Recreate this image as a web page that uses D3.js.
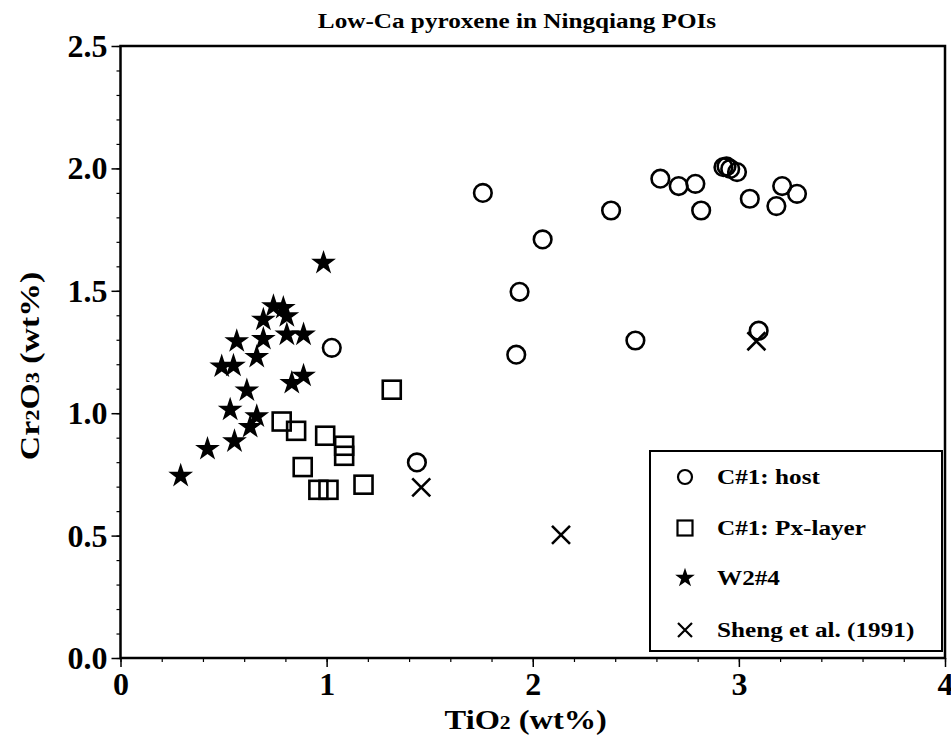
<!DOCTYPE html>
<html>
<head>
<meta charset="utf-8">
<script src="https://cdn.jsdelivr.net/npm/d3@7"></script>
<style>
  body { margin: 0; background: #fff; }
  text { font-family: "Liberation Serif", "Times New Roman", serif; font-weight: bold; fill: #000; }
</style>
</head>
<body>
<div class="myChart"></div>
<script>
var svgWidth = 951;
var svgHeight = 737;

var margin = { top: 46, right: 6, bottom: 79, left: 120.5 };
var width = svgWidth - margin.left - margin.right;
var height = svgHeight - margin.top - margin.bottom;

// data: [TiO2, Cr2O3]
var hostPts = [[1.025,1.267],[1.438,0.799],[1.758,1.900],[1.920,1.239],[1.936,1.496],[2.048,1.710],
  [2.380,1.828],[2.498,1.297],[2.619,1.958],[2.708,1.928],[2.789,1.937],[2.817,1.828],
  [2.925,2.005],[2.940,2.008],[2.958,1.998],[2.991,1.985],[3.053,1.876],[3.096,1.337],
  [3.182,1.846],[3.210,1.928],[3.282,1.896]];
var pxLayerPts = [[0.782,0.966],[0.852,0.928],[0.884,0.780],[0.960,0.687],[1.009,0.687],
  [0.993,0.908],[1.085,0.867],[1.085,0.826],[1.179,0.708],[1.316,1.096]];
var w24Pts = [[0.292,0.744],[0.422,0.854],[0.553,0.885],[0.629,0.944],[0.661,0.987],[0.532,1.014],
  [0.613,1.093],[0.831,1.123],[0.888,1.153],[0.491,1.191],[0.548,1.194],[0.661,1.230],
  [0.564,1.294],[0.693,1.303],[0.807,1.321],[0.888,1.321],[0.693,1.382],[0.742,1.437],
  [0.790,1.430],[0.807,1.396],[0.985,1.614]];
var shengPts = [[1.459,0.697],[2.137,0.503],[3.085,1.294]];

var legendLabels = ["C#1: host", "C#1: Px-layer", "W2#4", "Sheng et al. (1991)"];
var xTicks = [0, 1, 2, 3, 4];
var yTicks = [0, 0.5, 1.0, 1.5, 2.0, 2.5];

var svg = d3.select(".myChart")
  .append("svg")
  .attr("width", svgWidth)
  .attr("height", svgHeight);

var chart = svg.append("g")
  .attr("transform", "translate(" + margin.left + "," + margin.top + ")");

var x = d3.scaleLinear().domain([0, 4]).range([0, width]);
var y = d3.scaleLinear().domain([0, 2.5]).range([height, 0]);

// minor ticks
chart.append("g")
  .attr("transform", `translate(0, ${height})`)
  .call(d3.axisBottom(x).tickValues(d3.range(0, 4.01, 0.2)).tickSize(4).tickFormat(""))
  .call(g => g.select(".domain").remove())
  .selectAll("line").attr("stroke-width", 1.2);
chart.append("g")
  .call(d3.axisLeft(y).tickValues(d3.range(0, 2.51, 0.1)).tickSize(4).tickFormat(""))
  .call(g => g.select(".domain").remove())
  .selectAll("line").attr("stroke-width", 1.2);

// major ticks
var bottomAxis = d3.axisBottom(x).tickValues(xTicks).tickSize(9).tickPadding(4).tickFormat(d3.format("d"));
var leftAxis = d3.axisLeft(y).tickValues(yTicks).tickSize(9).tickPadding(4).tickFormat(d3.format(".1f"));

var xg = chart.append("g")
  .attr("transform", `translate(0, ${height})`)
  .call(bottomAxis);
xg.select(".domain").remove();
xg.selectAll("line").attr("stroke-width", 1.5);
xg.selectAll("text").style("font-size", "32px").attr("dy", "0.75em");

var yg = chart.append("g").call(leftAxis);
yg.select(".domain").remove();
yg.selectAll("line").attr("stroke-width", 1.5);
yg.selectAll("text").style("font-size", "32px").attr("dy", "0.33em");

// frame
chart.append("rect")
  .attr("width", width).attr("height", height)
  .attr("fill", "none").attr("stroke", "#000").attr("stroke-width", 2.5);

// markers
var star = d3.symbol().type(d3.symbolStar).size(190);
var mk = chart.append("g").attr("fill", "none").attr("stroke", "#000").attr("stroke-width", 2.6);

mk.selectAll(".host").data(hostPts).enter().append("circle")
  .attr("cx", d => x(d[0])).attr("cy", d => y(d[1])).attr("r", 8.8);

mk.selectAll(".px").data(pxLayerPts).enter().append("rect")
  .attr("x", d => x(d[0]) - 9).attr("y", d => y(d[1]) - 9)
  .attr("width", 18).attr("height", 18);

mk.selectAll(".w24").data(w24Pts).enter().append("path")
  .attr("d", star).attr("fill", "#000").attr("stroke", "none")
  .attr("transform", d => `translate(${x(d[0])},${y(d[1])})`);

function cross(s) {
  return `M${-s},${-s}L${s},${s}M${-s},${s}L${s},${-s}`;
}
mk.selectAll(".sheng").data(shengPts).enter().append("path")
  .attr("d", cross(9))
  .attr("transform", d => `translate(${x(d[0])},${y(d[1])})`);

// legend
var lg = svg.append("g").attr("transform", "translate(650,451)");
lg.append("rect").attr("width", 292).attr("height", 200)
  .attr("fill", "#fff").attr("stroke", "#000").attr("stroke-width", 2);
var rowY = [26, 77, 127, 179];
lg.selectAll(".item").data(legendLabels).enter().append("text")
  .attr("transform", (d, i) => `translate(67,${rowY[i]}) scale(1.26,1)`)
  .attr("dy", "0.35em")
  .style("font-size", "20px").text(d => d);

var lm = lg.append("g").attr("fill", "none").attr("stroke", "#000").attr("stroke-width", 2.2)
  .attr("transform", "translate(35,0)");
lm.append("circle").attr("cy", rowY[0]).attr("r", 7);
lm.append("rect").attr("x", -7.5).attr("y", rowY[1] - 7.5).attr("width", 15).attr("height", 15);
lm.append("path").attr("d", d3.symbol().type(d3.symbolStar).size(120))
  .attr("transform", `translate(0,${rowY[2]})`).attr("fill", "#000").attr("stroke", "none");
lm.append("path").attr("d", cross(7)).attr("transform", `translate(0,${rowY[3]})`);

// titles
svg.append("text")
  .attr("transform", "translate(517,28) scale(1.26,1)")
  .style("text-anchor", "middle").style("font-size", "20px")
  .text("Low-Ca pyroxene in Ningqiang POIs");

var xt = svg.append("text")
  .attr("transform", "translate(531,729) scale(1.2,1)")
  .style("font-size", "27px");
xt.append("tspan").attr("x", -72).text("TiO");
xt.append("tspan").style("font-size", "18px").text("2");
xt.append("tspan").text(" (wt%)");

var yt = svg.append("text")
  .attr("transform", "translate(39,366) rotate(-90) scale(1.25,1)")
  .style("text-anchor", "middle").style("font-size", "27px");
yt.append("tspan").text("Cr");
yt.append("tspan").style("font-size", "18px").text("2");
yt.append("tspan").text("O");
yt.append("tspan").style("font-size", "18px").text("3");
yt.append("tspan").text(" (wt%)");
</script>
</body>
</html>
